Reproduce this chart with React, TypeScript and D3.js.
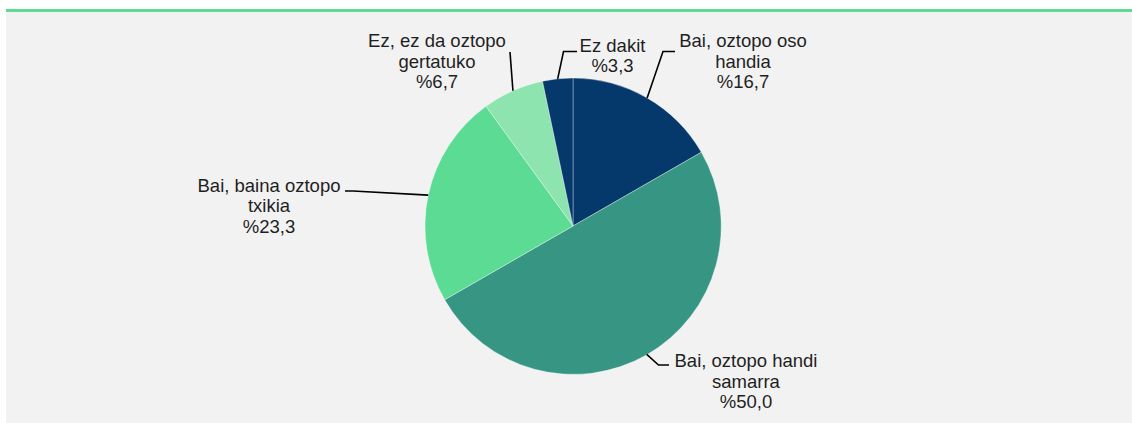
import React from "react";
import * as d3 from "d3";

// answer categories (Basque) and their share in percent
const categories = [
  ["Bai, oztopo oso", "handia"],
  ["Bai, oztopo handi", "samarra"],
  ["Bai, baina oztopo", "txikia"],
  ["Ez, ez da oztopo", "gertatuko"],
  ["Ez dakit"],
];
const values = [16.7, 50.0, 23.3, 6.7, 3.3];
const valueLabels = ["%16,7", "%50,0", "%23,3", "%6,7", "%3,3"];

const colors = ["#05386B", "#379683", "#5CDB95", "#8EE4AF"];

// where the labels sit (page coords), and the bend of each leader line
const labelLayout = [
  { x: 743, y: 47, elbow: [663, 51.5], end: [675, 51.5] },
  { x: 746, y: 367, elbow: [658.5, 365], end: [669, 365] },
  { x: 269, y: 191.5, elbow: [353, 191], end: [345, 191] },
  { x: 437, y: 47, elbow: [510, 52], end: [510, 52] },
  { x: 612.5, y: 51.5, elbow: [563.5, 51.5], end: [577, 51.5] },
];

const W = 1132,
  H = 423;
const cx = 573,
  cy = 226,
  r = 148;
const lineH = 20.7;

const App = () => {
  const pie = d3
    .pie<number>()
    .sort(null)
    .value((d) => d);
  const arcs = pie(values);
  const arc = d3.arc<d3.PieArcDatum<number>>().innerRadius(0).outerRadius(r);

  return (
    <svg
      width={W}
      height={H}
      style={{ position: "absolute", left: 0, top: 0, display: "block" }}
      fontFamily="'Liberation Sans', Arial, sans-serif"
    >
      <rect x={6} y={12} width={W} height={H} fill="#f2f2f2" />
      <rect x={6} y={9} width={W} height={3} fill="#5CDB95" />
      <g transform={`translate(${cx},${cy})`}>
        {arcs.map((a, i) => (
          <path
            key={i}
            d={arc(a) || ""}
            fill={colors[i % colors.length]}
            stroke="#ffffff"
            strokeOpacity={0.45}
            strokeWidth={0.75}
          />
        ))}
      </g>
      {arcs.map((a, i) => {
        const mid = (a.startAngle + a.endAngle) / 2;
        const sx = cx + r * Math.sin(mid);
        const sy = cy - r * Math.cos(mid);
        const l = labelLayout[i];
        const pts: [number, number][] = [[sx, sy], l.elbow as [number, number], l.end as [number, number]];
        return (
          <path
            key={"l" + i}
            d={d3.line()(pts) || ""}
            fill="none"
            stroke="#000"
            strokeWidth={1.6}
          />
        );
      })}
      {categories.map((lines, i) => {
        const l = labelLayout[i];
        const all = [...lines, valueLabels[i]];
        return (
          <text
            key={"t" + i}
            x={l.x}
            y={l.y}
            textAnchor="middle"
            fontSize={18.5}
            fill="#1f1f1f"
          >
            {all.map((s, j) => (
              <tspan key={j} x={l.x} y={l.y + j * lineH}>
                {s}
              </tspan>
            ))}
          </text>
        );
      })}
    </svg>
  );
};

export default App;
